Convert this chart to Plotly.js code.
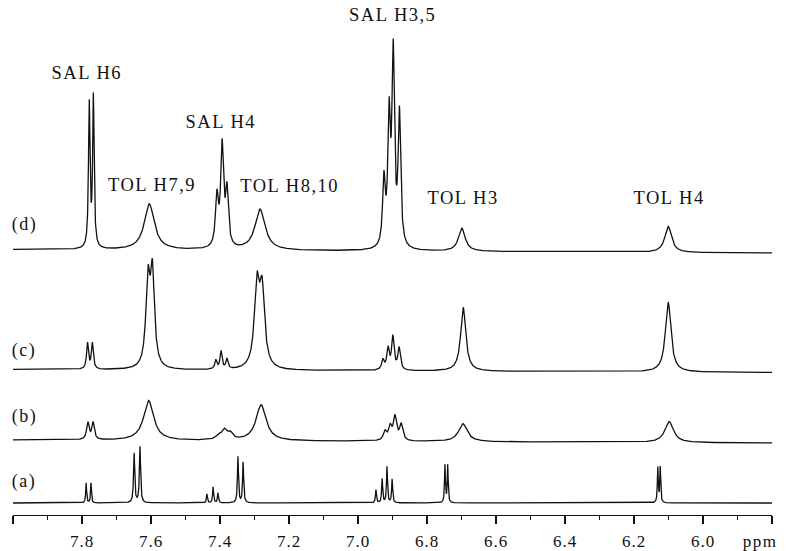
<!DOCTYPE html>
<html><head><meta charset="utf-8">
<script src="https://cdn.plot.ly/plotly-3.0.1.min.js"></script>
<style>
html,body{margin:0;padding:0;background:#fff}
#chart{width:786px;height:551px}
#chart .annotation-text{letter-spacing:1.5px}
#chart .xtick text{letter-spacing:1px}
</style>
</head><body><div id="chart"></div>
<script>
// Peak tables: chemical shift (ppm), intensity, half width at half height (ppm)
const spectrumLabels = ['(a)', '(b)', '(c)', '(d)'];

const shiftsA = [7.788, 7.774, 7.649, 7.632, 7.438, 7.420, 7.406, 7.348, 7.333, 6.948, 6.930, 6.916, 6.901, 6.748, 6.740, 6.131, 6.124];
const intensA = [20, 20, 50, 56, 9, 16, 10, 46, 41, 13, 24, 36, 24, 37.5, 37.5, 35.5, 35.5];
const widthsA = [0.0015, 0.0015, 0.002, 0.002, 0.0017, 0.0017, 0.0017, 0.0018, 0.0018, 0.0017, 0.0017, 0.0017, 0.0017, 0.0015, 0.0015, 0.0015, 0.0015];

const shiftsB = [7.783, 7.768, 7.607, 7.405, 7.388, 7.371, 7.281, 6.922, 6.907, 6.893, 6.875, 6.696, 6.098];
const intensB = [17, 17, 40, 4, 9.5, 6.5, 36, 9, 13.5, 23.5, 16, 18, 21];
const widthsB = [0.0043, 0.0043, 0.0174, 0.0085, 0.0085, 0.0085, 0.0174, 0.0055, 0.0055, 0.0055, 0.0055, 0.015, 0.015];

const shiftsC = [7.784, 7.770, 7.609, 7.596, 7.412, 7.397, 7.380, 7.293, 7.278, 6.928, 6.913, 6.899, 6.881, 6.695, 6.101];
const intensC = [26, 26, 84, 92, 9, 18, 10, 80, 74, 10, 21, 33, 22, 64, 70];
const widthsC = [0.0033, 0.0033, 0.007, 0.007, 0.0035, 0.0035, 0.0035, 0.0087, 0.0087, 0.0043, 0.0043, 0.0043, 0.0043, 0.0088, 0.0095];

const shiftsD = [7.779, 7.767, 7.605, 7.409, 7.394, 7.380, 7.284, 6.925, 6.910, 6.898, 6.880, 6.699, 6.101];
const intensD = [144, 151, 46, 49, 100, 55, 41, 65, 125, 189, 132, 23, 26];
const widthsD = [0.0026, 0.0026, 0.0174, 0.0049, 0.0049, 0.0049, 0.0174, 0.00435, 0.00435, 0.00435, 0.00435, 0.0116, 0.0116];

// baseline level of each stacked trace and its drift at the right edge
const baselineLevels = [12, 75, 145.5, 265.5];
const baselineDrift = [0, -3, -3, -3.5];

// peak assignments (labels above trace d)
const assignLabels = ['SAL H6', 'TOL H7,9', 'SAL H4', 'TOL H8,10', 'SAL H3,5', 'TOL H3', 'TOL H4'];
const assignX = [7.786, 7.597, 7.397, 7.200, 6.901, 6.696, 6.099];
const assignY = [442, 330, 393, 329, 500, 317, 317];

const tickVals = [8.0, 7.8, 7.6, 7.4, 7.2, 7.0, 6.8, 6.6, 6.4, 6.2, 6.0, 5.8];
const tickText = ['', '7.8', '7.6', '7.4', '7.2', '7.0', '6.8', '6.6', '6.4', '6.2', '6.0', ''];
const minorVals = [7.9, 7.7, 7.5, 7.3, 7.1, 6.9, 6.7, 6.5, 6.3, 6.1, 5.9];

const X_MAX = 8.0, X_MIN = 5.8, STEP = 0.0004;
const xs = [];
for (let v = X_MAX; v >= X_MIN - 1e-9; v -= STEP) xs.push(+v.toFixed(5));

function buildSpectrum(shifts, intens, widths, base, drift) {
  return xs.map(x => {
    let y = base + drift * (X_MAX - x) / (X_MAX - X_MIN);
    for (let i = 0; i < shifts.length; i++) {
      const d = (x - shifts[i]) / widths[i];
      y += intens[i] / (1 + d * d);
    }
    return y;
  });
}

const tables = [
  [shiftsA, intensA, widthsA],
  [shiftsB, intensB, widthsB],
  [shiftsC, intensC, widthsC],
  [shiftsD, intensD, widthsD]
];

const traces = tables.map((t, k) => ({
  type: 'scatter', mode: 'lines', x: xs,
  y: buildSpectrum(t[0], t[1], t[2], baselineLevels[k], baselineDrift[k]),
  line: {color: '#111', width: 1.3}, hoverinfo: 'skip', name: spectrumLabels[k]
}));

const serif = 'Liberation Serif, Times New Roman, serif';
const annotations = [];
assignLabels.forEach((txt, i) => annotations.push({
  text: txt, x: assignX[i], y: assignY[i], xref: 'x', yref: 'y',
  showarrow: false, xanchor: 'center', yanchor: 'middle',
  font: {family: serif, size: 18.5, color: '#111'}
}));
const labelY = [34, 99, 165, 291];
spectrumLabels.forEach((txt, i) => annotations.push({
  text: txt, x: 7.968, y: labelY[i], xref: 'x', yref: 'y',
  showarrow: false, xanchor: 'center', yanchor: 'middle',
  font: {family: serif, size: 18, color: '#111'}
}));
annotations.push({
  text: 'ppm', x: 0.984, y: -0.052, xref: 'paper', yref: 'paper', showarrow: false,
  xanchor: 'center', yanchor: 'middle', font: {family: serif, size: 17, color: '#111'}
});

const layout = {
  width: 786, height: 551,
  margin: {l: 13, r: 14, t: 0, b: 36},
  paper_bgcolor: '#fff', plot_bgcolor: '#fff',
  showlegend: false,
  xaxis: {
    range: [X_MAX, X_MIN], showgrid: false, zeroline: false,
    showline: true, linecolor: '#111', linewidth: 1.3,
    ticks: 'outside', ticklen: 8, tickwidth: 1.3, tickcolor: '#111',
    tickmode: 'array', tickvals: tickVals, ticktext: tickText,
    ticklabelstandoff: 2,
    tickfont: {family: serif, size: 17, color: '#111'},
    minor: {tickmode: 'array', tickvals: minorVals, ticks: 'outside', ticklen: 4, tickwidth: 1.3, tickcolor: '#111', showgrid: false}
  },
  yaxis: {range: [0, 515], visible: false, fixedrange: true},
  annotations: annotations
};

Plotly.newPlot('chart', traces, layout, {staticPlot: true, displayModeBar: false});
</script>
</body></html>
